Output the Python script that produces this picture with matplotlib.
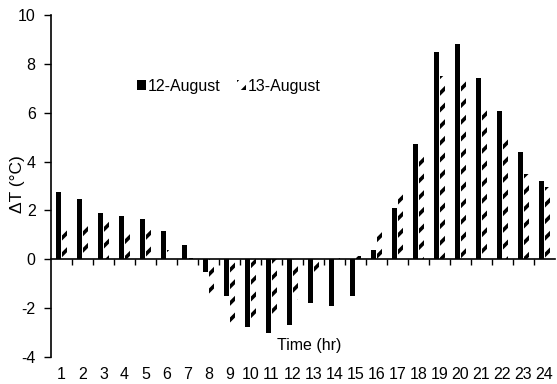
import matplotlib
matplotlib.use("Agg")
import matplotlib.pyplot as plt
import numpy as np

plt.rcParams["font.family"] = ["Liberation Sans", "DejaVu Sans"]
plt.rcParams["axes.unicode_minus"] = False
plt.rcParams["hatch.linewidth"] = 2.6

hours = list(range(1, 25))
aug12 = [2.75, 2.46, 1.88, 1.77, 1.65, 1.16, 0.59, -0.52, -1.50, -2.77,
         -3.00, -2.67, -1.78, -1.91, -1.50, 0.38, 2.09, 4.72, 8.47, 8.83,
         7.41, 6.08, 4.41, 3.22]
aug13 = [1.20, 1.54, 1.72, 1.27, 1.20, 0.38, 0.05, -1.46, -2.60, -2.65,
         -2.35, -1.67, -0.60, 0.05, 0.12, 1.18, 2.75, 4.40, 7.50, 7.54,
         6.27, 4.91, 3.48, 2.97]

fs = 11.5
fig = plt.figure(figsize=(5.57, 3.84), dpi=100)
ax = fig.add_axes([51/557, 27/384, 504/557, 342/384])

x = np.array(hours)
w = 0.27
ax.bar(x - 0.14, aug12, w, color="black", linewidth=0, label="12-August")
ax.bar(x + 0.14, aug13, w, color="white", edgecolor="black", linewidth=0,
       hatch="//", label="13-August")

ax.set_xlim(0.5, 24.5)
ax.set_ylim(-4, 10)
ax.set_yticks(range(-4, 11, 2))
ax.tick_params(axis="y", length=5, width=1, labelsize=fs, pad=6)

# x axis line sits at zero, ticks on category boundaries
for s in ["top", "right"]:
    ax.spines[s].set_visible(False)
ax.spines["bottom"].set_position(("data", 0))
ax.spines["left"].set_linewidth(1.2)
ax.spines["bottom"].set_linewidth(1.2)
ax.set_xticks(np.arange(1.5, 24.5, 1))
ax.tick_params(axis="x", length=4, width=1, labelbottom=False)

# hour labels along the bottom edge
sec = ax.secondary_xaxis("bottom")
sec.set_xticks(hours, labels=[str(h) for h in hours])
sec.tick_params(length=0, pad=7, labelsize=fs)
sec.spines["bottom"].set_visible(False)

ax.text(0.512, 0.035, "Time (hr)", transform=ax.transAxes, ha="center",
        va="center", fontsize=fs)
ax.set_ylabel("ΔT (°C)", fontsize=12.5)
ax.yaxis.set_label_coords(-0.052, 0.506)

ax.legend(loc="center", bbox_to_anchor=(229/557, 1 - 86/384),
          bbox_transform=fig.transFigure, ncol=2, frameon=False,
          fontsize=fs, handlelength=0.55, handleheight=0.55,
          handletextpad=0.15, columnspacing=1.0)

fig.savefig("out.png", dpi=100)
